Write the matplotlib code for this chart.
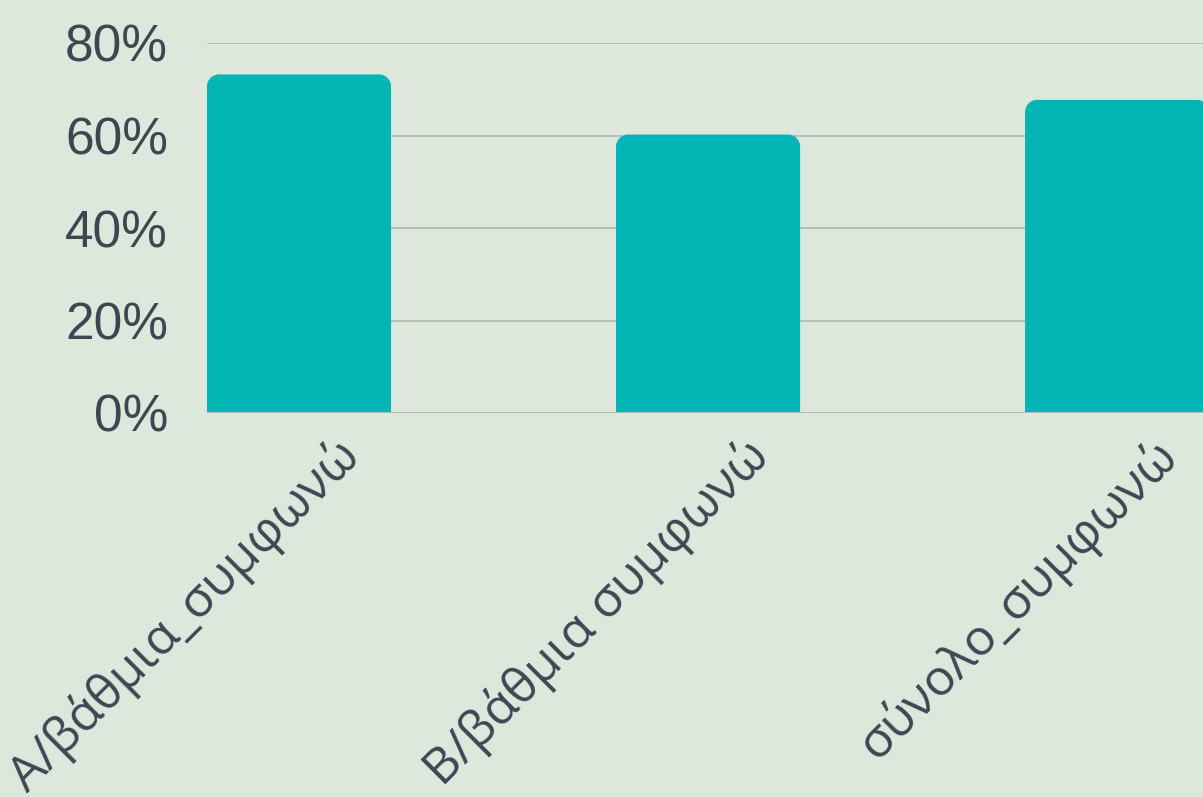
import matplotlib
matplotlib.use("Agg")
import matplotlib.pyplot as plt
from matplotlib.path import Path
from matplotlib.patches import PathPatch
from matplotlib.transforms import ScaledTranslation
import numpy as np

categories = ["Α/βάθμια_συμφωνώ", "Β/βάθμια συμφωνώ", "σύνολο_συμφωνώ"]
values = [73.2, 60.2, 67.7]
yticks = [0, 20, 40, 60, 80]
ytick_labels = ["0%", "20%", "40%", "60%", "80%"]

BG = "#dde7dc"
BAR = "#00b5b3"
GRID = "#b3bbb6"
TXT = "#404552"

W, H = 1203, 797
fig = plt.figure(figsize=(W / 100, H / 100), dpi=100, facecolor=BG)
ax = fig.add_axes([207 / W, 1 - 413 / H, (W - 207) / W, (413 - 43) / H])
ax.set_facecolor(BG)

x = np.arange(len(categories))
bar_w = 0.45
ax.set_xlim(-bar_w / 2, 2.21)
ax.set_ylim(0, 80)

# rounded-top bars
ax_w_px = (W - 207)
ax_h_px = (413 - 43)
px_x = ax_w_px / (2.21 + bar_w / 2)
px_y = ax_h_px / 80.0
r = 12
rx, ry = r / px_x, r / px_y
k = 0.5523
for xi, v in zip(x, values):
    x0, x1 = xi - bar_w / 2, xi + bar_w / 2
    verts = [
        (x0, 0), (x0, v - ry),
        (x0, v - ry + k * ry), (x0 + rx - k * rx, v), (x0 + rx, v),
        (x1 - rx, v),
        (x1 - rx + k * rx, v), (x1, v - ry + k * ry), (x1, v - ry),
        (x1, 0), (x0, 0),
    ]
    codes = [Path.MOVETO, Path.LINETO,
             Path.CURVE4, Path.CURVE4, Path.CURVE4,
             Path.LINETO,
             Path.CURVE4, Path.CURVE4, Path.CURVE4,
             Path.LINETO, Path.CLOSEPOLY]
    ax.add_patch(PathPatch(Path(verts, codes), facecolor=BAR, edgecolor="none", zorder=2))

ax.set_yticks(yticks)
ax.set_yticklabels(ytick_labels, fontsize=37, color=TXT, family=["Liberation Sans", "DejaVu Sans"])
ax.grid(axis="y", color=GRID, linewidth=1.3, zorder=1)
ax.set_axisbelow(True)
ax.axhline(0, color=GRID, linewidth=1.5, zorder=3)
ax.tick_params(axis="y", length=0, pad=28)
ax.tick_params(axis="x", length=0, pad=8)

ax.set_xticks(x)
ax.set_xticklabels(categories, fontsize=36, color=TXT, family=["Open Sans", "DejaVu Sans"],
                   rotation=45, ha="right", va="center", rotation_mode="anchor")
off = ScaledTranslation(53 / 100, -25 / 100, fig.dpi_scale_trans)
for lab in ax.get_xticklabels():
    lab.set_transform(lab.get_transform() + off)

for s in ax.spines.values():
    s.set_visible(False)

fig.savefig("out.png", dpi=100, facecolor=BG)
